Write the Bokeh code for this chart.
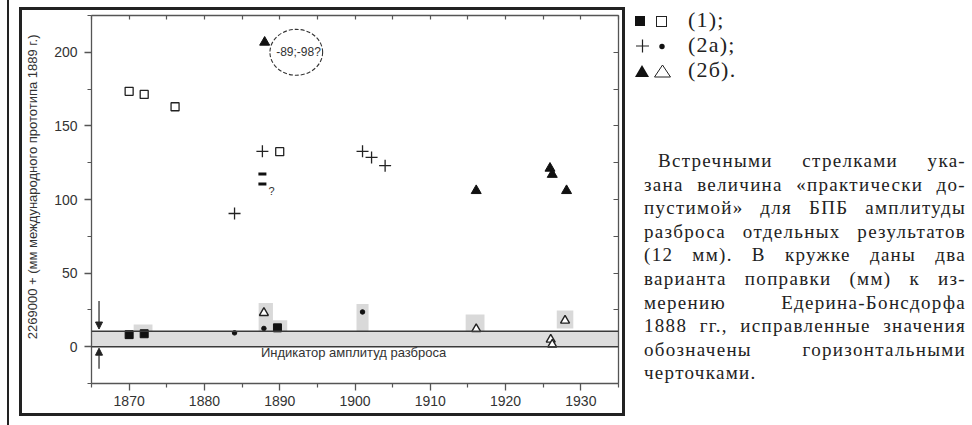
import math
from bokeh.plotting import figure
from bokeh.models import (Range1d, LinearAxis, FixedTicker, Label, Arrow, NormalHead,
                          Span, Div, Spacer)
from bokeh.layouts import row, column
from bokeh.embed import file_html
from bokeh.resources import INLINE

# ---------------- data ----------------
year_ticks = [1870, 1880, 1890, 1900, 1910, 1920, 1930]
year_minor = [1865, 1875, 1885, 1895, 1905, 1915, 1925, 1935]
year_all = [1865, 1870, 1875, 1880, 1885, 1890, 1895, 1900, 1905, 1910, 1915, 1920, 1925, 1930, 1935]
val_ticks = [0, 50, 100, 150, 200]
val_minor = [-25, 25, 75, 125, 175, 225]
val_all = [-25, 0, 25, 50, 75, 100, 125, 150, 175, 200, 225]

open_sq_x = [1870.0, 1872.0, 1876.1, 1890.0]
open_sq_y = [173.5, 171.4, 163.0, 132.5]
fill_sq_x = [1870.0, 1872.0, 1889.7]
fill_sq_y = [8.2, 8.8, 12.8]
plus_x = [1884.0, 1887.7, 1901.0, 1902.2, 1904.0]
plus_y = [90.5, 132.7, 132.7, 128.6, 123.0]
dot_x = [1884.0, 1887.9, 1901.0]
dot_y = [9.4, 12.4, 23.6]
fill_tri_x = [1888.0, 1916.1, 1925.9, 1926.2, 1928.1]
fill_tri_y = [206.8, 106.0, 121.2, 117.0, 106.0]
open_tri_x = [1887.9, 1916.1, 1926.0, 1926.2, 1927.9]
open_tri_y = [23.0, 12.0, 4.9, 1.5, 17.8]
corr_x = [1887.7, 1887.7]
corr_y = [117.4, 110.6]

hl_left = [1870.6, 1887.2, 1889.1, 1900.2, 1914.7, 1926.8]
hl_right = [1873.1, 1889.1, 1891.0, 1901.8, 1917.2, 1929.0]
hl_top = [15.0, 29.7, 18.0, 29.0, 21.9, 24.6]
hl_bottom = [10.5, 10.5, 10.5, 10.5, 10.5, 12.4]

band_low, band_high = 0.0, 10.5
arrow_x = 1866.0
arrow_top = [31.0, 12.0]
arrow_bottom = [-15.0, -1.0]
circle_x, circle_y, circle_w, circle_h = [1892.2], [200.0], [7.0], [31.2]
circle_text = "-89;-98?"
question_xy = (1888.5, 106.0)
band_text = "Индикатор амплитуд разброса"
band_text_xy = (1887.5, -4.2)
y_title = "2269000 + (мм международного прототипа 1889 г.)"

legend_rows = ["(1);", "(2а);", "(2б)."]
para_lines = [
    "Встречными стрелками ука-",
    "зана величина «практически до-",
    "пустимой» для БПБ амплитуды",
    "разброса отдельных результатов",
    "(12 мм). В кружке даны два",
    "варианта поправки (мм) к из-",
    "мерению Едерина-Бонсдорфа",
    "1888 гг., исправленные значения",
    "обозначены горизонтальными",
    "черточками.",
]

# ---------------- figure ----------------
INK = "#222222"
AX = "#555555"
FONT = "Liberation Sans"

p = figure(width=600, height=403, x_range=Range1d(1865, 1935), y_range=Range1d(-25, 225),
           output_backend="svg", toolbar_location=None,
           x_axis_location=None, y_axis_location=None,
           min_border_left=66, min_border_right=4, min_border_top=5, min_border_bottom=30)
p.grid.visible = False
p.outline_line_color = None
p.background_fill_color = "white"
p.border_fill_color = "white"

def mk_axis(ticks, minor, out_major, in_major, out_minor, in_minor, labels=True):
    ax = LinearAxis(ticker=FixedTicker(ticks=ticks, minor_ticks=minor))
    ax.axis_line_color = AX
    ax.axis_line_width = 1.3
    ax.major_tick_line_color = AX
    ax.minor_tick_line_color = AX
    ax.major_tick_line_width = 1.3
    ax.minor_tick_line_width = 1.2
    ax.major_tick_out = out_major
    ax.major_tick_in = in_major
    ax.minor_tick_out = out_minor
    ax.minor_tick_in = in_minor
    ax.major_label_text_font = FONT
    ax.major_label_text_font_size = "14px"
    ax.major_label_text_color = "#333333"
    if not labels:
        ax.major_label_standoff = 0
        ax.axis_label_standoff = 0
    return ax

bottom = mk_axis(year_ticks, year_minor, 7, 0, 4, 0)
bottom.major_label_standoff = 5
left = mk_axis(val_ticks, val_minor, 7, 0, 4, 0)
left.major_label_standoff = 7
left.axis_label = "\u00a0" * 7 + y_title
left.axis_label_text_font = FONT
left.axis_label_text_font_size = "13px"
left.axis_label_text_font_style = "normal"
left.axis_label_text_color = "#333333"
left.axis_label_standoff = 11
top = mk_axis([], year_all, 0, 0, 0, 4, labels=False)
right = mk_axis([], val_all, 0, 0, 0, 5, labels=False)
p.add_layout(bottom, "below")
p.add_layout(left, "left")
p.add_layout(top, "above")
p.add_layout(right, "right")

# band + highlights
p.quad(left=[1865], right=[1935], bottom=[band_low], top=[band_high],
       fill_color="#dddddd", line_color=None)
p.quad(left=hl_left, right=hl_right, bottom=hl_bottom, top=hl_top,
       fill_color="#d9d9d9", line_color=None)
for loc in (band_low, band_high):
    p.add_layout(Span(location=loc, dimension="width", line_color="#3a3a3a", line_width=1.5))

# markers
p.scatter(open_sq_x, open_sq_y, marker="square", size=8, fill_color="white",
          line_color=INK, line_width=1.3)
p.scatter(fill_sq_x, fill_sq_y, marker="square", size=8, fill_color="#111111", line_color="#111111")
p.scatter(plus_x, plus_y, marker="cross", size=12, line_color=INK, line_width=1.3)
p.scatter(dot_x, dot_y, marker="circle", size=4.5, fill_color="#111111", line_color="#111111")
p.scatter(fill_tri_x, fill_tri_y, marker="triangle", size=10, fill_color="#111111", line_color="#111111")
p.scatter(open_tri_x, open_tri_y, marker="triangle", size=9, fill_color="white",
          line_color=INK, line_width=1.4)
p.scatter(corr_x, corr_y, marker="dash", size=8, line_color="#111111", line_width=3)

# ellipse annotation
p.ellipse(x=circle_x, y=circle_y, width=circle_w, height=circle_h, fill_color=None,
          line_color="#333333", line_dash="4 2", line_width=1.1)
p.add_layout(Label(x=circle_x[0] + 0.3, y=circle_y[0], text=circle_text, text_align="center",
                   text_baseline="middle", text_font=FONT, text_font_size="12px",
                   text_color="#333333"))
p.add_layout(Label(x=question_xy[0], y=question_xy[1], text="?", text_align="left",
                   text_baseline="middle", text_font=FONT, text_font_size="11px",
                   text_color="#333333"))
p.add_layout(Label(x=band_text_xy[0], y=band_text_xy[1], text=band_text, text_align="left",
                   text_baseline="middle", text_font=FONT, text_font_size="13px",
                   text_color="#333333"))

# counter arrows
for (ys, ye) in (arrow_top, arrow_bottom):
    p.add_layout(Arrow(end=NormalHead(size=7, fill_color=INK, line_color=INK),
                       x_start=arrow_x, y_start=ys, x_end=arrow_x, y_end=ye,
                       line_color=INK, line_width=1.2))

# page rule and the frame box around the chart, built from layout spacers
rule = Spacer(width=19, height=425,
              styles={"background": "linear-gradient(to right, transparent 7px, #222222 7px, "
                                    "#222222 9px, transparent 9px)"})
dark = {"background": INK}
edge_l = Spacer(width=3, height=409, styles=dark)
edge_r = Spacer(width=3, height=409, styles=dark)
edge_t = Spacer(width=600, height=3, styles=dark)
edge_b = Spacer(width=600, height=3, styles=dark)
boxed = column(Spacer(width=606, height=7),
               row(edge_l, column(edge_t, p, edge_b, spacing=0), edge_r, spacing=0),
               spacing=0)

# ---------------- right-hand text (div starts at page x 625) ----------------
fs_leg = 22
leg_lh = 22
leg_base = [22, 47, 72]
parts = []
for txt, b in zip(legend_rows, leg_base):
    top_px = b - ((leg_lh - 1.107 * fs_leg) / 2 + 0.891 * fs_leg)
    parts.append(f'<div style="position:absolute;left:58px;top:{top_px:.1f}px;'
                 f'font-size:{fs_leg}px;line-height:{leg_lh}px;letter-spacing:1.2px;'
                 f'white-space:nowrap;">{txt}</div>')

svg = ('<svg style="position:absolute;left:0;top:0" width="80" height="90" '
       'xmlns="http://www.w3.org/2000/svg">'
       '<rect x="5" y="11" width="10" height="10" fill="#111"/>'
       '<rect x="26.5" y="11.5" width="10" height="10" fill="none" stroke="#222" stroke-width="1"/>'
       '<path d="M6 41 H19 M12.5 34.5 V47.5" stroke="#222" stroke-width="1.2"/>'
       '<circle cx="32" cy="41.5" r="2.7" fill="#111"/>'
       '<path d="M5 72 L12 60 L19 72 Z" fill="#111"/>'
       '<path d="M24.5 72 L32.5 60 L40.5 72 Z" fill="none" stroke="#222" stroke-width="1"/>'
       '</svg>')
parts.append(svg)

fs_p = 19
lh = 23.6
top0 = 144
for i, ln in enumerate(para_lines):
    last = i == len(para_lines) - 1
    indent = 14 if i == 0 else 0
    align = "left" if last else "justify"
    parts.append(f'<div style="position:absolute;left:{14 + indent}px;top:{top0 + i * lh:.1f}px;'
                 f'width:{322 - indent}px;font-size:{fs_p}px;line-height:{lh}px;'
                 f'letter-spacing:1.3px;text-align:{align};text-align-last:{align};">{ln}</div>')

html = ('<div style="position:relative;width:347px;height:425px;'
        'font-family:\'Liberation Serif\',serif;color:#222;">' + "".join(parts) + '</div>')
div = Div(text=html, width=347, height=425)

layout = row(rule, boxed, div, spacing=0)
open("out.html", "w").write(file_html(layout, INLINE))
